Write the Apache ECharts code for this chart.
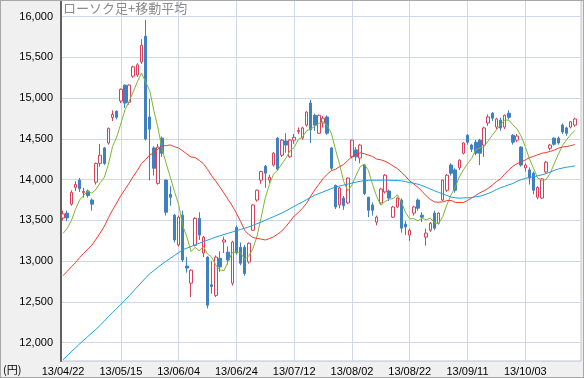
<!DOCTYPE html>
<html>
<head>
<meta charset="utf-8">
<script src="https://cdn.jsdelivr.net/npm/echarts@6/dist/echarts.min.js"></script>
<style>
  html, body { margin: 0; padding: 0; background: #f0f0f0; }
  #wrap { position: relative; width: 584px; height: 378px; }
  #chart { width: 584px; height: 378px; }
  #frame { position: absolute; left: 0; top: 0; width: 582px; height: 376px; border: 1px solid #a8a8a8; pointer-events: none; }
</style>
</head>
<body>
<div id="wrap">
  <div id="chart"></div>
  <div id="frame"></div>
</div>
<script>
'use strict';

// 日付 (13/04/22 - 13/10/22)
var dates = [
  '13/04/22','13/04/23','13/04/24','13/04/25','13/04/26','13/04/30','13/05/01','13/05/02','13/05/07','13/05/08',
  '13/05/09','13/05/10','13/05/13','13/05/14','13/05/15','13/05/16','13/05/17','13/05/20','13/05/21','13/05/22',
  '13/05/23','13/05/24','13/05/27','13/05/28','13/05/29','13/05/30','13/05/31','13/06/03','13/06/04','13/06/05',
  '13/06/06','13/06/07','13/06/10','13/06/11','13/06/12','13/06/13','13/06/14','13/06/17','13/06/18','13/06/19',
  '13/06/20','13/06/21','13/06/24','13/06/25','13/06/26','13/06/27','13/06/28','13/07/01','13/07/02','13/07/03',
  '13/07/04','13/07/05','13/07/08','13/07/09','13/07/10','13/07/11','13/07/12','13/07/16','13/07/17','13/07/18',
  '13/07/19','13/07/22','13/07/23','13/07/24','13/07/25','13/07/26','13/07/29','13/07/30','13/07/31','13/08/01',
  '13/08/02','13/08/05','13/08/06','13/08/07','13/08/08','13/08/09','13/08/12','13/08/13','13/08/14','13/08/15',
  '13/08/16','13/08/19','13/08/20','13/08/21','13/08/22','13/08/23','13/08/26','13/08/27','13/08/28','13/08/29',
  '13/08/30','13/09/02','13/09/03','13/09/04','13/09/05','13/09/06','13/09/09','13/09/10','13/09/11','13/09/12',
  '13/09/13','13/09/17','13/09/18','13/09/19','13/09/20','13/09/24','13/09/25','13/09/26','13/09/27','13/09/30',
  '13/10/01','13/10/02','13/10/03','13/10/04','13/10/07','13/10/08','13/10/09','13/10/10','13/10/11','13/10/15',
  '13/10/16','13/10/17','13/10/18','13/10/21','13/10/22'
];

// 四本値
var opens = [
  13530,13590,13700,13905,13995,13840,13860,13750,13970,14200,
  14390,14450,14765,14840,14965,15160,14950,15270,15285,15445,
  15760,14770,14390,13955,14510,13995,13820,13565,13200,13565,
  12940,12730,13195,13525,13100,13050,12710,12580,13035,13235,
  13110,12730,13415,13170,13170,12990,13380,13750,13995,14165,
  13995,14180,14510,14300,14475,14280,14485,14590,14510,14670,
  14940,14790,14570,14695,14770,14390,13930,13690,13775,13715,
  14280,14365,14265,14180,13785,13690,13480,13715,13850,13860,
  13540,13665,13750,13455,13320,13590,13750,13565,13295,13380,
  13590,13465,13750,13870,14180,14120,14145,14325,14545,14425,
  14460,14485,14425,14695,14815,14645,14730,14645,14815,14545,
  14485,14400,14145,14120,14080,13785,13775,14095,14385,14510,
  14510,14670,14635,14645,14670
];
var closes = [
  13580,13530,13845,13940,13890,13855,13805,13700,14200,14300,
  14200,14630,14800,14765,15110,14940,15160,15385,15410,15650,
  14500,14620,14140,14400,14325,13600,13785,13260,13540,13015,
  12915,12890,13525,13320,13295,12460,12690,13050,12930,13260,
  13015,13235,13100,12975,12850,13220,13690,13870,14100,14080,
  14030,14325,14130,14485,14425,14485,14520,14605,14635,14830,
  14610,14670,14790,14755,14570,14140,13665,13900,13680,14020,
  14485,14280,14425,13830,13625,13625,13540,13885,14055,13775,
  13665,13775,13405,13420,13380,13665,13650,13540,13345,13465,
  13405,13590,13995,14055,14080,13870,14240,14450,14460,14375,
  14325,14325,14635,14770,14755,14745,14635,14790,14765,14460,
  14535,14180,14180,14020,13870,13905,14010,14215,14425,14435,
  14450,14585,14570,14710,14745
];
var lows = [
  13500,13490,13680,13860,13850,13780,13780,13620,13940,14160,
  14180,14430,14720,14740,14940,14880,14920,15250,15260,15420,
  14480,13990,14050,13940,14280,13560,13680,13230,13180,12990,
  12860,12560,13180,13260,13050,12420,12600,12560,12870,13100,
  12960,12700,13080,12950,12820,12970,13370,13730,13950,13900,
  13960,14160,14110,14280,14330,14270,14440,14560,14490,14650,
  14450,14600,14560,14640,14550,14120,13640,13650,13630,13700,
  14260,14230,14200,13810,13540,13560,13440,13700,13830,13740,
  13530,13650,13350,13320,13250,13560,13620,13480,13190,13360,
  13380,13450,13740,13850,14050,13840,14120,14310,14430,14340,
  14300,14180,14280,14660,14720,14620,14600,14620,14740,14430,
  14460,14160,14100,13940,13820,13760,13760,14080,14360,14420,
  14430,14560,14540,14630,14650
];
var highs = [
  13620,13620,13870,13980,14020,13900,13880,13770,14210,14440,
  14400,14640,14850,14850,15120,15170,15170,15400,15430,15725,
  15960,14990,14410,14440,14530,14000,13920,13580,13560,13620,
  13050,12900,13540,13600,13310,13060,13000,13070,13120,13300,
  13180,13250,13440,13230,13200,13230,13700,13880,14110,14180,
  14060,14340,14520,14500,14570,14500,14560,14640,14650,14840,
  14980,14810,14800,14780,14790,14400,13940,13910,13800,14030,
  14490,14400,14440,14190,13790,13720,13560,13900,14070,13880,
  13680,13790,13770,13490,13400,13680,13770,13600,13400,13480,
  13620,13600,14000,14070,14200,14140,14250,14460,14560,14440,
  14490,14500,14650,14800,14830,14760,14760,14800,14850,14560,
  14560,14410,14200,14150,14100,13920,14020,14230,14440,14520,
  14530,14690,14650,14720,14760
];

// 移動平均 (5日・25日・75日)
var ma5 = [
  13341,13403,13495,13636,13750,13808,13862,13833,13883,13964,
  14030,14191,14409,14525,14687,14856,14962,15078,15202,15309,
  15198,15093,14849,14635,14375,14196,14029,13853,13697,13435,
  13298,13118,13169,13125,13180,13089,13050,12954,12892,12884,
  12997,13106,13112,13105,13022,13062,13151,13309,13535,13779,
  13940,14067,14118,14193,14265,14356,14395,14493,14522,14600,
  14623,14654,14690,14713,14664,14572,14372,14190,13978,13866,
  13934,14053,14160,14191,14111,13941,13793,13686,13731,13761,
  13768,13815,13721,13596,13519,13521,13496,13526,13508,13527,
  13473,13460,13547,13690,13812,13906,14032,14121,14196,14260,
  14369,14390,14406,14475,14546,14611,14673,14732,14731,14673,
  14624,14534,14405,14258,14138,14020,13993,14000,14076,14194,
  14309,14418,14492,14550,14604
];
var ma25 = [
  12822,12875,12930,12981,13043,13096,13149,13197,13271,13346,
  13428,13533,13629,13714,13805,13879,13957,14039,14113,14198,
  14247,14302,14333,14376,14417,14418,14427,14404,14389,14354,
  14315,14279,14271,14237,14197,14127,14050,13980,13910,13836,
  13756,13679,13587,13491,13379,13328,13291,13279,13271,13260,
  13277,13299,13332,13370,13426,13489,13554,13597,13649,13710,
  13796,13875,13944,14013,14066,14111,14128,14160,14188,14235,
  14285,14308,14330,14319,14301,14285,14253,14244,14227,14200,
  14167,14137,14089,14042,13984,13947,13906,13857,13801,13757,
  13727,13724,13728,13743,13746,13722,13719,13720,13744,13776,
  13807,13839,13864,13893,13933,13976,14010,14067,14120,14164,
  14197,14218,14242,14270,14286,14306,14324,14333,14347,14362,
  14386,14402,14407,14418,14431
];
var ma75 = [
  11790,11840,11890,11935,11985,12030,12075,12120,12165,12215,
  12265,12320,12370,12420,12470,12520,12575,12630,12685,12740,
  12795,12845,12885,12925,12965,13000,13035,13070,13105,13140,
  13160,13180,13200,13220,13240,13258,13277,13295,13311,13327,
  13343,13358,13374,13390,13405,13420,13440,13460,13480,13502,
  13524,13546,13568,13590,13617,13645,13672,13700,13727,13755,
  13782,13810,13830,13850,13870,13890,13910,13922,13934,13946,
  13958,13970,13980,13988,13993,13993,13993,13994,13995,13993,
  13991,13990,13986,13976,13964,13957,13944,13927,13908,13886,
  13864,13844,13825,13807,13787,13778,13773,13777,13778,13779,
  13790,13797,13814,13830,13853,13877,13901,13918,13937,13953,
  13980,14000,14015,14028,14036,14048,14059,14074,14093,14114,
  14131,14143,14153,14160,14169
];

// 右端に空き1本
var categories = dates.concat(['']);
var candles = dates.map(function(d, i) {
  return [opens[i], closes[i], lows[i], highs[i]];
});

var FONT = '"Liberation Sans", Arial, sans-serif';

var myChart = echarts.init(document.getElementById('chart'));

var option = {
  animation: false,
  backgroundColor: '#f0f0f0',
  title: {
    text: 'ローソク足+移動平均',
    left: 63,
    top: 2,
    padding: 0,
    textStyle: {
      color: '#8a8a8a',
      fontSize: 13,
      fontWeight: 'normal',
      fontFamily: '"Noto Sans CJK JP", sans-serif'
    }
  },
  graphic: [{
    type: 'text',
    left: 3,
    top: 364,
    style: { text: '(円)', fill: '#000', fontSize: 11, fontFamily: '"Noto Sans CJK JP", sans-serif' }
  }],
  grid: {
    left: 61,
    right: 3,
    top: 0,
    bottom: 17,
    show: true,
    backgroundColor: '#ffffff',
    borderColor: '#c4c4c4',
    borderWidth: 1
  },
  xAxis: {
    type: 'category',
    data: categories,
    boundaryGap: true,
    axisLine: { show: false },
    axisTick: { show: false },
    axisLabel: {
      interval: 13,
      margin: 5,
      color: '#000',
      fontSize: 11,
      fontFamily: FONT
    },
    splitLine: {
      show: true,
      alignWithLabel: true,
      interval: function(i) { return i > 0 && i % 14 === 0; },
      lineStyle: { color: '#cdd8ea', width: 1 }
    }
  },
  yAxis: {
    type: 'value',
    min: 11775,
    max: 16205,
    splitNumber: 8,
    minInterval: 500,
    maxInterval: 500,
    axisLine: { show: true, lineStyle: { color: '#606060', width: 2 } },
    axisTick: { show: false },
    axisLabel: {
      margin: 8,
      color: '#000',
      fontSize: 11,
      fontFamily: FONT,
      formatter: function(v) {
        if (v % 500 !== 0) return '';
        return v.toLocaleString('en-US');
      }
    },
    splitLine: { lineStyle: { color: '#cdd8ea', width: 1 } }
  },
  series: [
    {
      name: 'ローソク足',
      type: 'candlestick',
      data: candles,
      barWidth: 3,
      itemStyle: {
        color: '#ffffff',
        color0: '#3f80c0',
        borderColor: '#d8405c',
        borderColor0: '#3f80c0',
        borderWidth: 1
      }
    },
    {
      name: 'MA5', type: 'line', data: ma5, showSymbol: false, symbol: 'none',
      lineStyle: { color: '#7db830', width: 1 }, z: 3
    },
    {
      name: 'MA25', type: 'line', data: ma25, showSymbol: false, symbol: 'none',
      lineStyle: { color: '#f03c2c', width: 1 }, z: 3
    },
    {
      name: 'MA75', type: 'line', data: ma75, showSymbol: false, symbol: 'none',
      lineStyle: { color: '#1b9edb', width: 1 }, z: 3
    }
  ]
};

myChart.setOption(option);
</script>
</body>
</html>
